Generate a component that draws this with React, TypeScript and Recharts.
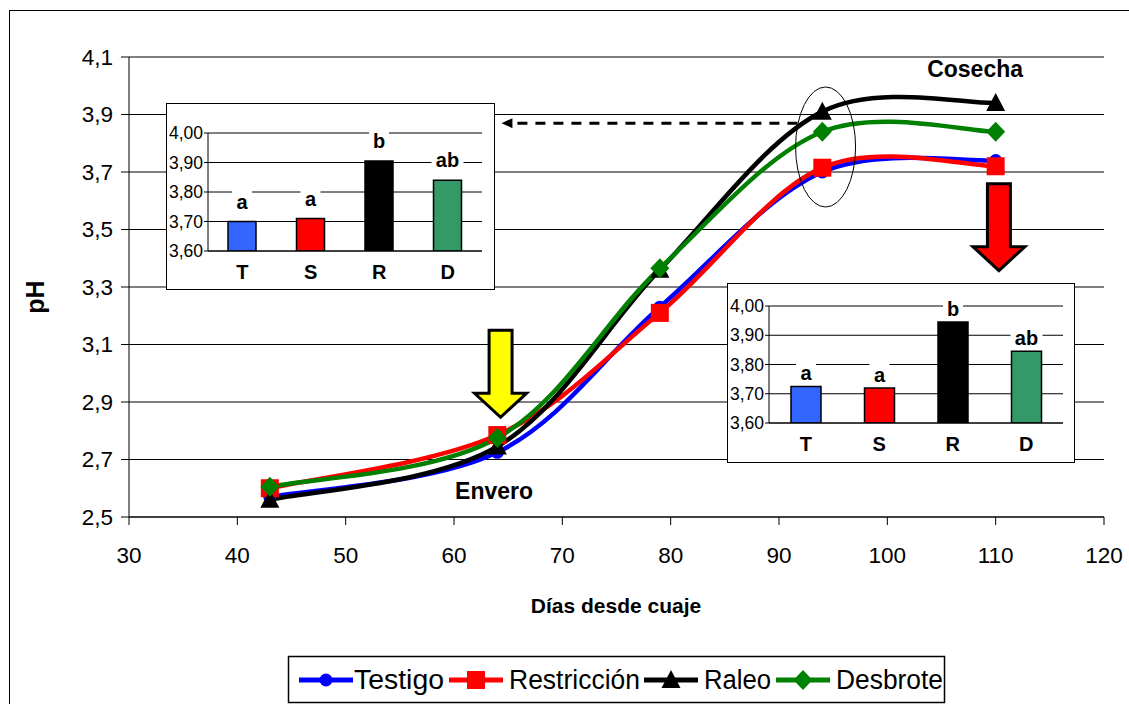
import React from 'react';
import { LineChart, Line, XAxis, YAxis, CartesianGrid, ReferenceDot, BarChart, Bar, Cell, LabelList } from 'recharts';

const FONT = '"Liberation Sans", Arial, sans-serif';

// main series: pH vs days after fruit set
const days = [43, 64, 79, 94, 110];
const testigo = [2.57, 2.725, 3.23, 3.70, 3.74];
const restriccion = [2.60, 2.785, 3.21, 3.715, 3.72];
const raleo = [2.56, 2.745, 3.36, 3.91, 3.94];
const desbrote = [2.605, 2.775, 3.365, 3.84, 3.84];

const xTicks = [30, 40, 50, 60, 70, 80, 90, 100, 110, 120];
const yTicks = [2.5, 2.7, 2.9, 3.1, 3.3, 3.5, 3.7, 3.9, 4.1];

// inset bar charts
const insetCats = ['T', 'S', 'R', 'D'];
const insetDay94 = [3.70, 3.71, 3.905, 3.84];
const insetDay110 = [3.725, 3.72, 3.945, 3.845];
const insetLetters = ['a', 'a', 'b', 'ab'];
const insetColors = ['#3366FF', '#FF0000', '#000000', '#339966'];
const insetTicks = [3.6, 3.7, 3.8, 3.9, 4.0];

const series = [
  { key: 'testigo', name: 'Testigo', color: '#0000FF', shape: 'circle' },
  { key: 'restriccion', name: 'Restricción', color: '#FF0000', shape: 'square' },
  { key: 'raleo', name: 'Raleo', color: '#000000', shape: 'triangle' },
  { key: 'desbrote', name: 'Desbrote', color: '#008000', shape: 'diamond' },
];

const rows = days.map((d, i) => ({
  day: d,
  testigo: testigo[i],
  restriccion: restriccion[i],
  raleo: raleo[i],
  desbrote: desbrote[i],
}));

const fmt1 = (v: number) => v.toFixed(1).replace('.', ',');
const fmt2 = (v: number) => v.toFixed(2).replace('.', ',');

// excel-like smoothed line (bezier, control points at 1/6 of neighbour chord)
const excelSmooth = (context: any) => {
  let pts: number[][] = [];
  return {
    areaStart() {},
    areaEnd() {},
    lineStart() { pts = []; },
    point(x: number, y: number) { pts.push([+x, +y]); },
    lineEnd() {
      const n = pts.length;
      if (!n) return;
      context.moveTo(pts[0][0], pts[0][1]);
      for (let i = 0; i < n - 1; i++) {
        const p0 = pts[Math.max(i - 1, 0)];
        const p1 = pts[i];
        const p2 = pts[i + 1];
        const p3 = pts[Math.min(i + 2, n - 1)];
        context.bezierCurveTo(
          p1[0] + (p2[0] - p0[0]) / 6, p1[1] + (p2[1] - p0[1]) / 6,
          p2[0] - (p3[0] - p1[0]) / 6, p2[1] - (p3[1] - p1[1]) / 6,
          p2[0], p2[1]
        );
      }
    },
  };
};

const Marker = ({ shape, color, cx, cy }: any) => {
  if (cx == null || cy == null) return null;
  if (shape === 'circle') return <circle cx={cx} cy={cy} r={6.5} fill={color} />;
  if (shape === 'square') return <rect x={cx - 9} y={cy - 9} width={18} height={18} fill={color} />;
  if (shape === 'triangle')
    return <polygon points={`${cx},${cy - 10} ${cx + 9.5},${cy + 8} ${cx - 9.5},${cy + 8}`} fill={color} />;
  return <polygon points={`${cx},${cy - 10} ${cx + 9.5},${cy} ${cx},${cy + 10} ${cx - 9.5},${cy}`} fill={color} />;
};

const DownArrow = ({ cx, cy, fill }: any) => {
  const top = cy - 43, neck = cy + 20, tip = cy + 44;
  const pts = [
    [cx - 11.5, top], [cx + 11.5, top], [cx + 11.5, neck], [cx + 26, neck],
    [cx, tip], [cx - 26, neck], [cx - 11.5, neck],
  ].map((p) => p.join(',')).join(' ');
  return <polygon points={pts} fill={fill} stroke="#000" strokeWidth={3} />;
};

const DashedArrow = ({ cx, cy }: any) => (
  <g>
    <line x1={cx} y1={cy} x2={cx - 286} y2={cy} stroke="#000" strokeWidth={3} strokeDasharray="10 8" />
    <polygon points={`${cx - 296},${cy} ${cx - 285},${cy - 5} ${cx - 285},${cy + 5}`} fill="#000" />
  </g>
);

const Note = ({ cx, cy, text }: any) => (
  <text x={cx} y={cy} textAnchor="middle" dominantBaseline="central" fontFamily={FONT} fontWeight="bold" fontSize={23} fill="#000">
    {text}
  </text>
);

const LetterLabel = (offset: number) => (props: any) => {
  const { x, y, width, value } = props;
  const cx = x + width / 2;
  const cy = y - offset;
  const w = String(value).length * 12 + 8;
  return (
    <g>
      <rect x={cx - w / 2} y={cy - 11} width={w} height={22} fill="#fff" />
      <text x={cx} y={cy} textAnchor="middle" dominantBaseline="central" fontFamily={FONT} fontWeight="bold" fontSize={20} fill="#000">
        {value}
      </text>
    </g>
  );
};

const InsetChart = ({ left, top, width, height, values, plotLeft, plotTop, plotRight, axisH, barSize, labelOffset }: any) => {
  const data = insetCats.map((c, i) => ({ cat: c, value: values[i], letter: insetLetters[i] }));
  return (
    <div style={{ position: 'absolute', left, top, width, height, background: '#fff' }}>
      <BarChart width={width} height={height} data={data} margin={{ top: plotTop, right: plotRight, bottom: 0, left: 0 }}>
        <CartesianGrid vertical={false} stroke="#000" />
        <XAxis dataKey="cat" height={axisH} tickLine={false} tickSize={0} tickMargin={14} axisLine={{ stroke: '#000' }}
          tick={{ fill: '#000', fontSize: 20, fontWeight: 'bold', fontFamily: FONT }} />
        <XAxis xAxisId="top" dataKey="cat" orientation="top" height={0} tick={false} tickLine={false} axisLine={{ stroke: '#808080' }} />
        <YAxis type="number" domain={[3.6, 4.0]} ticks={insetTicks} interval={0} width={plotLeft} tickSize={4} tickMargin={1}
          tickFormatter={fmt2} axisLine={{ stroke: '#000' }} tickLine={{ stroke: '#000' }}
          tick={{ fill: '#000', fontSize: 17.5, fontFamily: FONT }} allowDataOverflow />
        <YAxis yAxisId="r" orientation="right" width={0} domain={[3.6, 4.0]} tick={false} tickLine={false} axisLine={{ stroke: '#808080' }} />
        <Bar dataKey="value" barSize={barSize} stroke="#000" strokeWidth={1.5} isAnimationActive={false}>
          {data.map((d, i) => <Cell key={d.cat} fill={insetColors[i]} />)}
          <LabelList dataKey="letter" content={LetterLabel(labelOffset)} />
        </Bar>
      </BarChart>
      <div style={{ position: 'absolute', left: 0, top: 0, width, height, boxSizing: 'border-box', border: '1.5px solid #000' }} />
    </div>
  );
};

const Legend = () => {
  const items = [
    { ...series[0], lx: 299, tx: 354, tl: 90 },
    { ...series[1], lx: 449, tx: 509, tl: 131 },
    { ...series[2], lx: 644, tx: 704, tl: 67 },
    { ...series[3], lx: 776, tx: 836, tl: 107 },
  ];
  return (
    <svg width={1129} height={704} style={{ position: 'absolute', left: 0, top: 0 }}>
      <rect x={288.5} y={656.5} width={656} height={46} fill="#fff" stroke="#000" strokeWidth={1.5} />
      {items.map((it) => (
        <g key={it.key}>
          <line x1={it.lx} y1={680} x2={it.lx + 54} y2={680} stroke={it.color} strokeWidth={5} />
          <Marker shape={it.shape} color={it.color} cx={it.lx + 27} cy={680} />
          <text x={it.tx} y={689} fontFamily={FONT} fontSize={27} fill="#000" textLength={it.tl} lengthAdjust="spacingAndGlyphs">
            {it.name}
          </text>
        </g>
      ))}
    </svg>
  );
};

export default function App() {
  return (
    <div style={{ position: 'absolute', left: 0, top: 0, width: 1129, height: 704, background: '#fff', overflow: 'hidden', fontFamily: FONT }}>
      <div style={{ position: 'absolute', left: 9, top: 10, width: 1200, height: 800, border: '1px solid #000' }} />
      <div style={{ position: 'absolute', left: 0, top: 0 }}>
        <LineChart width={1129} height={704} data={rows} margin={{ top: 57, right: 25, bottom: 0, left: 0 }}>
          <CartesianGrid vertical={false} stroke="#000" />
          <XAxis type="number" dataKey="day" domain={[30, 120]} ticks={xTicks} interval={0} height={187}
            tickSize={8} tickMargin={22} axisLine={{ stroke: '#000' }} tickLine={{ stroke: '#000' }}
            tick={{ fill: '#000', fontSize: 22.5, fontFamily: FONT }} allowDataOverflow />
          <XAxis xAxisId="top" orientation="top" type="number" domain={[30, 120]} height={0}
            tick={false} tickLine={false} axisLine={{ stroke: '#808080' }} />
          <YAxis type="number" domain={[2.5, 4.1]} ticks={yTicks} interval={0} width={129} tickSize={8} tickMargin={8}
            tickFormatter={fmt1} axisLine={{ stroke: '#000' }} tickLine={{ stroke: '#000' }}
            tick={{ fill: '#000', fontSize: 22.5, fontFamily: FONT }} allowDataOverflow />
          <YAxis yAxisId="right" orientation="right" width={0} domain={[2.5, 4.1]}
            tick={false} tickLine={false} axisLine={{ stroke: '#808080' }} />
          {series.map((s) => (
            <Line key={s.key} dataKey={s.key} name={s.name} type={excelSmooth as any} stroke={s.color} strokeWidth={4.5}
              isAnimationActive={false}
              dot={(p: any) => <Marker key={`${s.key}-${p.index}`} shape={s.shape} color={s.color} cx={p.cx} cy={p.cy} />}
              activeDot={false} />
          ))}
          <ReferenceDot x={94.3} y={3.787} ifOverflow="visible"
            shape={(p: any) => <ellipse cx={p.cx} cy={p.cy} rx={30} ry={60} fill="none" stroke="#000" strokeWidth={1} />} />
          <ReferenceDot x={64.3} y={3.0} ifOverflow="visible" shape={(p: any) => <DownArrow cx={p.cx} cy={p.cy} fill="#FFFF00" />} />
          <ReferenceDot x={110.3} y={3.51} ifOverflow="visible" shape={(p: any) => <DownArrow cx={p.cx} cy={p.cy} fill="#FF0000" />} />
          <ReferenceDot x={91.7} y={3.87} ifOverflow="visible" shape={(p: any) => <DashedArrow cx={p.cx} cy={p.cy} />} />
          <ReferenceDot x={63.7} y={2.59} ifOverflow="visible" shape={(p: any) => <Note cx={p.cx} cy={p.cy} text="Envero" />} />
          <ReferenceDot x={108.1} y={4.058} ifOverflow="visible" shape={(p: any) => <Note cx={p.cx} cy={p.cy} text="Cosecha" />} />
        </LineChart>
      </div>
      <svg width={1129} height={704} style={{ position: 'absolute', left: 0, top: 0, pointerEvents: 'none' }}>
        <text x={35} y={297} transform="rotate(-90 35 297)" textAnchor="middle" dominantBaseline="central"
          fontFamily={FONT} fontWeight="bold" fontSize={25} fill="#000">pH</text>
        <text x={616} y={605} textAnchor="middle" dominantBaseline="central"
          fontFamily={FONT} fontWeight="bold" fontSize={21} fill="#000">Días desde cuaje</text>
      </svg>
      <InsetChart left={166} top={103} width={329} height={187} values={insetDay94}
        plotLeft={42} plotTop={30} plotRight={13} axisH={39} barSize={28} labelOffset={20} />
      <InsetChart left={727} top={283} width={348} height={180} values={insetDay110}
        plotLeft={42} plotTop={23} plotRight={12} axisH={40} barSize={30} labelOffset={13} />
      <Legend />
    </div>
  );
}
